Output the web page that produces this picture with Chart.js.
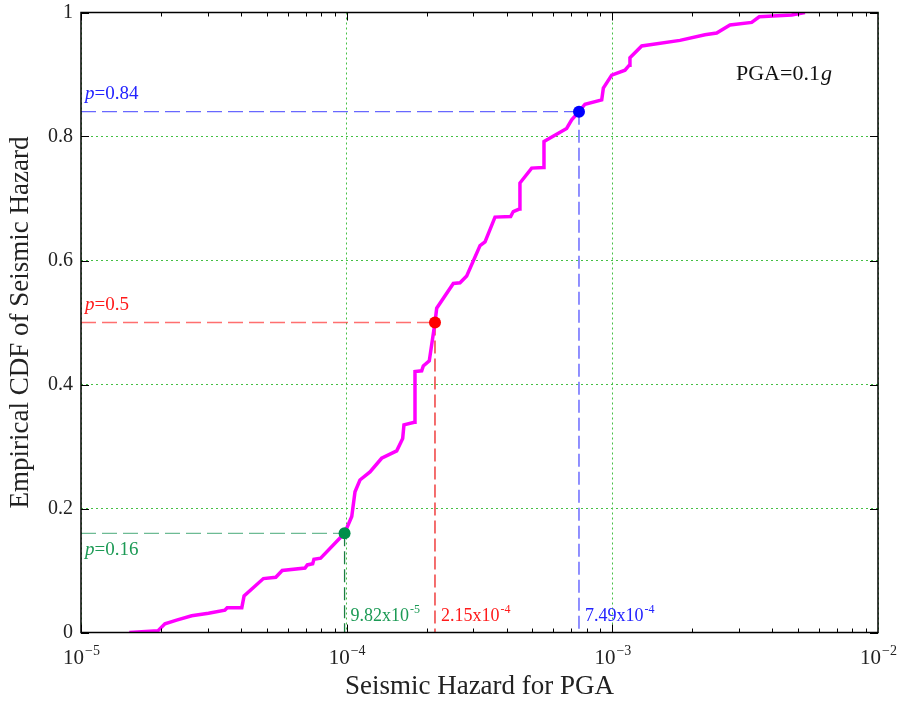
<!DOCTYPE html>
<html>
<head>
<meta charset="utf-8">
<script src="https://cdn.jsdelivr.net/npm/chart.js@4/dist/chart.umd.min.js"></script>
<style>
  html, body { margin: 0; padding: 0; background: #fff; }
</style>
</head>
<body>
<canvas id="cdfChart" width="902" height="705"></canvas>
<script>
// Empirical CDF of the seismic hazard for PGA = 0.1g
const hazardX = [1.52e-5, 1.95e-5, 2.07e-5, 2.29e-5, 2.61e-5, 3.02e-5, 3.48e-5, 3.55e-5, 4.03e-5, 4.11e-5,
  4.86e-5, 5.41e-5, 5.72e-5, 6.97e-5, 7.11e-5, 7.45e-5, 7.53e-5, 7.98e-5, 9.82e-5, 1.045e-4,
  1.075e-4, 1.122e-4, 1.224e-4, 1.354e-4, 1.543e-4, 1.625e-4, 1.643e-4, 1.797e-4, 1.808e-4, 1.916e-4,
  1.943e-4, 2.046e-4, 2.15e-4, 2.182e-4, 2.52e-4, 2.671e-4, 2.83e-4, 3.177e-4, 3.317e-4, 3.617e-4,
  4.143e-4, 4.238e-4, 4.464e-4, 4.49e-4, 4.97e-4, 5.497e-4, 5.53e-4, 6.73e-4, 7.03e-4, 7.49e-4,
  7.89e-4, 9.12e-4, 9.25e-4, 9.945e-4, 1.116e-3, 1.158e-3, 1.165e-3, 1.29e-3, 1.797e-3, 2.232e-3,
  2.47e-3, 2.773e-3, 3.346e-3, 3.574e-3, 4.733e-3, 5.31e-3];
const cdfY = [0, 0.003, 0.014, 0.020, 0.027, 0.031, 0.036, 0.040, 0.040, 0.059,
  0.087, 0.089, 0.100, 0.104, 0.109, 0.111, 0.118, 0.120, 0.16, 0.187,
  0.227, 0.246, 0.259, 0.281, 0.293, 0.313, 0.335, 0.339, 0.421, 0.422,
  0.430, 0.438, 0.5, 0.523, 0.563, 0.564, 0.575, 0.624, 0.630, 0.670,
  0.671, 0.679, 0.683, 0.725, 0.749, 0.750, 0.792, 0.813, 0.827, 0.84,
  0.852, 0.859, 0.878, 0.899, 0.907, 0.915, 0.927, 0.946, 0.955, 0.964,
  0.967, 0.980, 0.984, 0.993, 0.996, 1.0];

const xTicks = [1e-5, 1e-4, 1e-3, 1e-2];
const xTickExp = ['\u22125', '\u22124', '\u22123', '\u22122'];
const yTicks = [0, 0.2, 0.4, 0.6, 0.8, 1];

// marked quantiles: probability, hazard value, label text
const quantileP = [0.16, 0.5, 0.84];
const quantileX = [9.82e-5, 2.15e-4, 7.49e-4];
const quantileMant = ['9.82x10', '2.15x10', '7.49x10'];
const quantileExp = ['-5', '-4', '-4'];
const quantileDot = ['#008f4a', '#ff0000', '#0000ff'];
const quantileText = ['#1c9a55', '#ff1a1a', '#2323ff'];
const quantileHLine = ['rgba(30,150,90,0.65)', 'rgba(255,50,50,0.7)', 'rgba(40,40,255,0.7)'];
const quantileVLine = ['#1b7d42', '#ee2020', 'rgba(40,40,255,0.8)'];

const SERIF = '"Liberation Serif", "DejaVu Serif", serif';
const AXIS_COLOR = '#222';

const datasets = [{
  label: 'CDF',
  data: hazardX.map((x, i) => ({ x: x, y: cdfY[i] })),
  borderColor: '#ff00ff',
  borderWidth: 3.5,
  pointRadius: 0,
  tension: 0,
  order: 1
}];

quantileP.forEach((p, i) => {
  const q = quantileX[i];
  datasets.push({
    data: [{ x: xTicks[0], y: p }, { x: q, y: p }],
    borderColor: quantileHLine[i], borderWidth: 1.3, borderDash: [15, 6],
    pointRadius: 0, order: 2
  });
  datasets.push({
    data: [{ x: q, y: p }, { x: q, y: 0 }],
    borderColor: quantileVLine[i], borderWidth: 1.3, borderDash: [13, 5],
    pointRadius: 0, order: 2
  });
  datasets.push({
    data: [{ x: q, y: p }],
    showLine: false,
    pointRadius: 6, pointHoverRadius: 6,
    pointBackgroundColor: quantileDot[i], pointBorderColor: quantileDot[i], pointBorderWidth: 0,
    order: 0
  });
});

// text with a raised exponent, e.g. 10^-4
function drawPower(ctx, x, y, base, exp, size, supSize, color, align) {
  ctx.fillStyle = color;
  ctx.textBaseline = 'alphabetic';
  ctx.font = size + 'px ' + SERIF;
  const wb = ctx.measureText(base).width;
  ctx.font = supSize + 'px ' + SERIF;
  const we = ctx.measureText(exp).width;
  let start = x;
  if (align === 'center') start = x - (wb + we) / 2;
  ctx.font = size + 'px ' + SERIF;
  ctx.textAlign = 'left';
  ctx.fillText(base, start, y);
  ctx.font = supSize + 'px ' + SERIF;
  ctx.fillText(exp, start + wb + 1, y - size * 0.42);
}

const framePlugin = {
  id: 'frame',
  afterDraw(chart) {
    const { ctx, chartArea: a, scales } = chart;
    const xs = scales.x, ys = scales.y;
    ctx.save();

    // axis box
    ctx.strokeStyle = '#000';
    ctx.lineWidth = 1.5;
    ctx.strokeRect(a.left, a.top, a.right - a.left, a.bottom - a.top);

    // inward tick marks, minor ones on the log axis
    ctx.lineWidth = 1;
    ctx.beginPath();
    for (let d = -5; d < -2; d++) {
      for (let k = 1; k <= 9; k++) {
        const px = Math.round(xs.getPixelForValue(k * Math.pow(10, d))) + 0.5;
        const len = k === 1 ? 8 : 4;
        ctx.moveTo(px, a.bottom); ctx.lineTo(px, a.bottom - len);
        ctx.moveTo(px, a.top); ctx.lineTo(px, a.top + len);
      }
    }
    yTicks.forEach(v => {
      const py = Math.round(ys.getPixelForValue(v)) + 0.5;
      ctx.moveTo(a.left, py); ctx.lineTo(a.left + 8, py);
      ctx.moveTo(a.right, py); ctx.lineTo(a.right - 8, py);
    });
    ctx.stroke();

    // decade labels under the x axis
    xTicks.forEach((v, i) => {
      drawPower(ctx, xs.getPixelForValue(v), 664, '10', xTickExp[i], 21, 14, AXIS_COLOR, 'center');
    });

    // quantile labels
    quantileP.forEach((p, i) => {
      const py = ys.getPixelForValue(p);
      const qx = xs.getPixelForValue(quantileX[i]);
      ctx.fillStyle = quantileText[i];
      ctx.textAlign = 'left';
      ctx.textBaseline = 'alphabetic';
      const ty = p < 0.3 ? py + 22 : py - 13;
      ctx.font = 'italic 19px ' + SERIF;
      ctx.fillText('p', a.left + 4, ty);
      const wp = ctx.measureText('p').width;
      ctx.font = '19px ' + SERIF;
      ctx.fillText('=' + p, a.left + 4 + wp, ty);
      drawPower(ctx, qx + 6, a.bottom - 12, quantileMant[i], quantileExp[i], 18, 12, quantileText[i], 'left');
    });

    // case annotation
    ctx.fillStyle = '#111';
    ctx.textAlign = 'left';
    ctx.font = '22px ' + SERIF;
    ctx.fillText('PGA=0.1', 736, 80);
    const w = ctx.measureText('PGA=0.1').width;
    ctx.font = 'italic 22px ' + SERIF;
    ctx.fillText('g', 736 + w + 1, 80);

    ctx.restore();
  }
};

new Chart(document.getElementById('cdfChart'), {
  type: 'line',
  data: { datasets: datasets },
  plugins: [framePlugin],
  options: {
    responsive: false,
    devicePixelRatio: 1,
    animation: false,
    layout: { padding: { top: 12.5, right: 24, left: 0, bottom: 0 } },
    plugins: { legend: { display: false }, tooltip: { enabled: false } },
    scales: {
      x: {
        type: 'logarithmic',
        min: 1e-5,
        max: 1e-2,
        afterBuildTicks: s => { s.ticks = xTicks.map(v => ({ value: v })); },
        afterFit: s => { s.height = 72.5; s.paddingLeft = 0; s.paddingRight = 0; },
        ticks: { display: false },
        grid: { color: '#45c045', lineWidth: 1, drawTicks: false },
        border: { display: false, dash: [2, 3] },
        title: {
          display: true,
          text: 'Seismic Hazard for PGA',
          color: AXIS_COLOR,
          font: { family: SERIF, size: 27 },
          padding: { top: 0, bottom: 2 }
        }
      },
      y: {
        type: 'linear',
        min: 0,
        max: 1,
        afterBuildTicks: s => { s.ticks = yTicks.map(v => ({ value: v })); },
        afterFit: s => { s.width = 81; s.paddingTop = 0; s.paddingBottom = 0; },
        ticks: {
          color: AXIS_COLOR,
          padding: 8,
          font: { family: SERIF, size: 20 },
          callback: v => String(v)
        },
        grid: { color: '#45c045', lineWidth: 1, drawTicks: false },
        border: { display: false, dash: [2, 3] },
        title: {
          display: true,
          text: 'Empirical CDF of Seismic Hazard',
          color: AXIS_COLOR,
          font: { family: SERIF, size: 27 },
          padding: { top: 5, bottom: 0 }
        }
      }
    }
  }
});
</script>
</body>
</html>
